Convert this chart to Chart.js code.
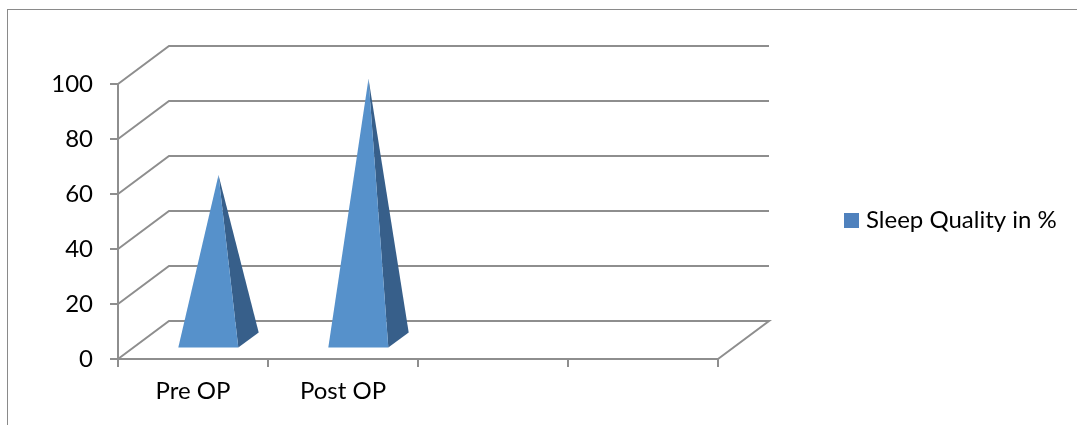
<!DOCTYPE html>
<html>
<head>
<meta charset="utf-8">
<script src="https://cdn.jsdelivr.net/npm/chart.js@4/dist/chart.umd.min.js"></script>
<style>
  html, body { margin: 0; padding: 0; background: #fff; }
  #wrap { position: relative; width: 1077px; height: 425px; }
  #frame { position: absolute; left: 7px; top: 9px; right: 0; bottom: 0;
           border-top: 1px solid #8a8a8a; border-left: 1px solid #8a8a8a; pointer-events: none; }
  canvas { position: absolute; left: 0; top: 0; }
</style>
</head>
<body>
<div id="wrap">
  <canvas id="c" width="1077" height="425"></canvas>
  <div id="frame"></div>
</div>
<script>
// Categories along the floor (two empty slots complete the floor)
const categories = ['Pre OP', 'Post OP', '', ''];
// Sleep quality percentage per category
const sleepQuality = [60, 95, null, null];
const seriesName = 'Sleep Quality in %';
// Value axis ticks
const yTicks = [0, 20, 40, 60, 80, 100];

const FONT = { family: 'Lato, "Noto Sans", sans-serif', size: 24 };
const GRID = '#8e8e8e';
const FACE = '#5691cb';
const SIDE = '#375f8a';
const KEY = '#4f81bd';

// Oblique depth of the 3-D box (back wall offset from the front plane)
const DEPTH = { dx: 51, dy: -38 };

const box3d = {
  id: 'box3d',
  beforeDatasetsDraw(chart) {
    const { ctx, chartArea: a } = chart;
    const y = chart.scales.y;
    ctx.save();
    ctx.strokeStyle = GRID;
    ctx.lineWidth = 2;
    ctx.lineJoin = 'miter';
    yTicks.forEach(v => {
      const py = y.getPixelForValue(v);
      ctx.beginPath();
      ctx.moveTo(a.left, py);
      ctx.lineTo(a.left + DEPTH.dx, py + DEPTH.dy);
      ctx.lineTo(a.right + DEPTH.dx, py + DEPTH.dy);
      if (v === 0) ctx.lineTo(a.right, py);
      ctx.stroke();
    });
    ctx.restore();
  },
  afterDatasetsDraw(chart) {
    const { ctx } = chart;
    const x = chart.scales.x, y = chart.scales.y;
    const catW = (x.right - x.left) / categories.length;
    const hw = catW * 0.2;
    const y0 = y.getPixelForValue(0);
    const meta = chart.getDatasetMeta(0);
    meta.data.forEach((el, i) => {
      const v = sleepQuality[i];
      if (v === null || v === undefined) return;
      const cx = x.getPixelForValue(i);
      const f = 0.3, b = 0.7, m = 0.5;
      const fl = [cx - hw + f * DEPTH.dx, y0 + f * DEPTH.dy];
      const fr = [cx + hw + f * DEPTH.dx, y0 + f * DEPTH.dy];
      const br = [cx + hw + b * DEPTH.dx, y0 + b * DEPTH.dy];
      const apex = [cx + m * DEPTH.dx, y.getPixelForValue(v) + m * DEPTH.dy];
      ctx.save();
      ctx.fillStyle = SIDE;
      ctx.beginPath();
      ctx.moveTo(fr[0], fr[1]); ctx.lineTo(br[0], br[1]); ctx.lineTo(apex[0], apex[1]);
      ctx.closePath(); ctx.fill();
      ctx.fillStyle = FACE;
      ctx.beginPath();
      ctx.moveTo(fl[0], fl[1]); ctx.lineTo(fr[0], fr[1]); ctx.lineTo(apex[0], apex[1]);
      ctx.closePath(); ctx.fill();
      ctx.restore();
    });
  },
  afterDraw(chart) {
    const { ctx } = chart;
    const ds = chart.data.datasets[0];
    ctx.save();
    ctx.fillStyle = KEY;
    ctx.fillRect(844, 213, 15, 15);
    ctx.fillStyle = '#000';
    ctx.font = `${FONT.size}px ${FONT.family}`;
    ctx.textBaseline = 'alphabetic';
    ctx.textAlign = 'left';
    ctx.fillText(ds.label, 866, 228);
    ctx.restore();
  }
};

new Chart(document.getElementById('c'), {
  type: 'bar',
  data: {
    labels: categories,
    datasets: [{
      label: seriesName,
      data: sleepQuality,
      backgroundColor: 'rgba(0,0,0,0)',
      borderWidth: 0
    }]
  },
  options: {
    responsive: false,
    animation: false,
    events: [],
    layout: { padding: { left: 0, top: 84, right: 359, bottom: 0 } },
    plugins: { legend: { display: false }, tooltip: { enabled: false } },
    scales: {
      x: {
        grid: { offset: true, drawOnChartArea: false, drawTicks: true, tickLength: 8, color: GRID, lineWidth: 2 },
        border: { display: true, color: GRID, width: 2 },
        ticks: { color: '#000', font: FONT, padding: 10, maxRotation: 0 },
        afterFit(s) { s.height = 66; }
      },
      y: {
        min: 0, max: 100,
        grid: { drawOnChartArea: false, drawTicks: true, tickLength: 8, color: GRID, lineWidth: 2 },
        border: { display: true, color: GRID, width: 2 },
        ticks: { color: '#000', font: FONT, padding: 17, stepSize: 20,
                 callback: v => yTicks.includes(v) ? String(v) : '' },
        afterFit(s) { s.width = 118; }
      }
    }
  },
  plugins: [box3d]
});
</script>
</body>
</html>
